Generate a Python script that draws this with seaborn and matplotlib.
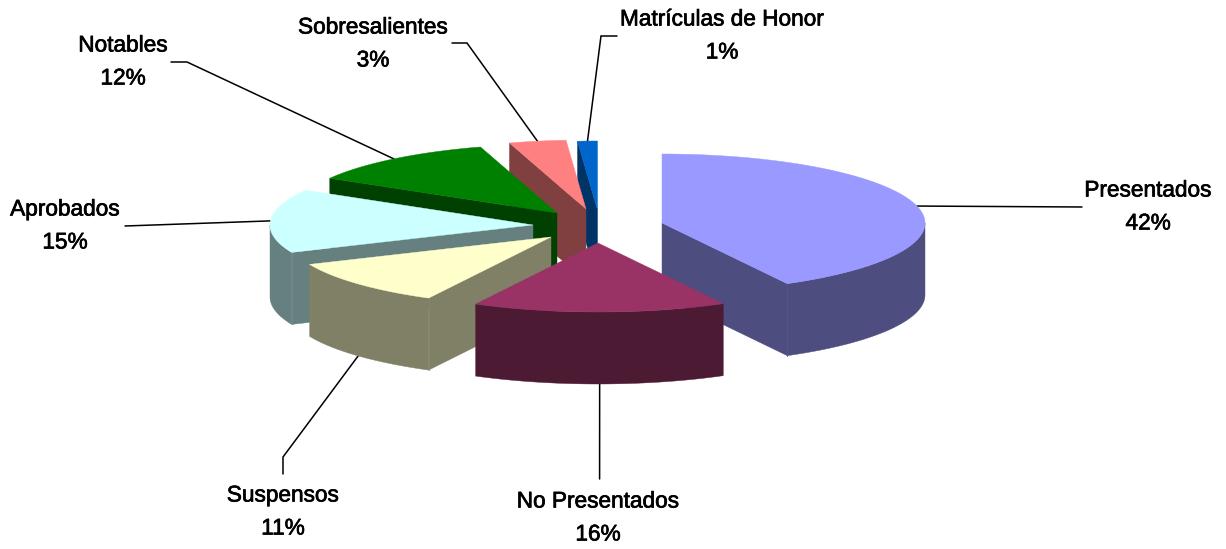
import numpy as np
import matplotlib
matplotlib.use("Agg")
import matplotlib.pyplot as plt
import matplotlib.patheffects as pe
import seaborn as sns

# ---- data ----
categories = ["Presentados", "No Presentados", "Suspensos", "Aprobados",
              "Notables", "Sobresalientes", "Matrículas de Honor"]
shares = [42.1, 15.6, 10.8, 14.9, 11.9, 3.49, 1.21]
top_colors = ["#9999FF", "#993366", "#FFFFCC", "#CCFFFF", "#008000", "#FF8080", "#0066CC"]

# ---- layout (pixels of the 1226x549 canvas) ----
apex_x = [662, 598, 551, 533, 557, 586, 597.5]
apex_y = [223, 243, 237, 225, 213, 209, 210]
RX, RY, DEPTH = 263, 69, 72
draw_order = [6, 5, 4, 3, 2, 0, 1]          # far to near
label_x = [1148, 598, 283, 65, 123, 373, 722]
label_y = [190, 501, 495, 209, 45, 27, 19]
LINE_GAP = 33
elbow_x = [[1082], [599.6], [283, 283], [125], [187, 171], [467, 452], [601, 617]]
elbow_y = [[207], [479], [457, 474], [226], [62, 62], [43, 43], [36, 36]]

sns.set_theme(style="white")
plt.rcParams["font.family"] = ["Liberation Sans", "DejaVu Sans"]
palette = sns.color_palette(top_colors)
sides = [tuple(c * 0.5 for c in col) for col in palette]

fig = plt.figure(figsize=(12.26, 5.49), dpi=100, facecolor="white")
ax = fig.add_axes([0, 0, 1, 1])
ax.set_xlim(0, 1226)
ax.set_ylim(549, 0)
ax.axis("off")

edges = np.concatenate([[0], np.cumsum(shares)]) / np.sum(shares) * 2 * np.pi
order_pos = {s: k for k, s in enumerate(draw_order)}


def rim(i, a):
    return apex_x[i] + RX * np.sin(a), apex_y[i] - RY * np.cos(a)


def draw_slice(i):
    a0, a1 = edges[i], edges[i + 1]
    cx, cy = apex_x[i], apex_y[i]
    side = sides[i]
    z = 10 + order_pos[i]
    seam = tuple(min(1, c + 0.03) for c in side)
    lo = max(a0, np.pi / 2)
    hi = min(a1, 1.5 * np.pi)
    # radial faces turned to the viewer, with a faint seam where they meet the wall
    for a, visible in ((a0, np.sin(a0) < -1e-9), (a1, np.sin(a1) > 1e-9)):
        if visible:
            x, y = rim(i, a)
            ax.fill([cx, x, x, cx], [cy, y, y + DEPTH, cy + DEPTH],
                    color=side, lw=0.3, zorder=z)
    # outer wall: only where the rim faces the viewer
    if hi > lo:
        t = np.linspace(lo, hi, 80)
        x, y = rim(i, t)
        ax.fill(np.r_[x, x[::-1]], np.r_[y, y[::-1] + DEPTH],
                color=side, lw=0.3, zorder=z)
    for a, visible in ((a0, np.sin(a0) < -1e-9), (a1, np.sin(a1) > 1e-9)):
        if visible and hi > lo and lo <= a <= hi:
            x, y = rim(i, a)
            ax.plot([x, x], [y, y + DEPTH], color=seam, lw=0.7, zorder=z)
    # top face
    t = np.linspace(a0, a1, 160)
    x, y = rim(i, t)
    ax.fill(np.r_[cx, x], np.r_[cy, y], color=palette[i], lw=0.3, zorder=z + 0.5)


for s in draw_order:
    draw_slice(s)

# leaders and labels
for i, name in enumerate(categories):
    mid = (edges[i] + edges[i + 1]) / 2
    x0, y0 = rim(i, mid)
    if np.cos(mid) < 0:
        y0 += DEPTH
    ax.plot([x0] + elbow_x[i], [y0] + elbow_y[i], color="black", lw=1.1, zorder=5,
            solid_joinstyle="miter")
    effect = [pe.withStroke(linewidth=0.5, foreground="black")]
    ax.text(label_x[i], label_y[i], name, ha="center", va="center", fontsize=16.3,
            color="black", zorder=30, path_effects=effect)
    ax.text(label_x[i], label_y[i] + LINE_GAP, f"{round(shares[i])}%", ha="center",
            va="center", fontsize=16.3, color="black", zorder=30, path_effects=effect)

fig.savefig("out.png", dpi=100, facecolor="white")
